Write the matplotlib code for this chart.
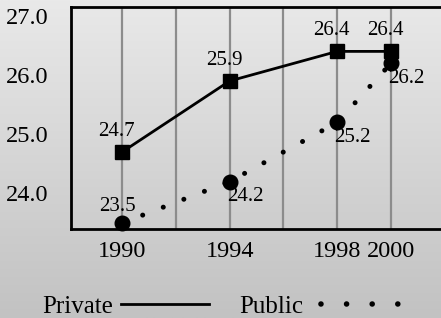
import numpy as np
import matplotlib.pyplot as plt
from matplotlib.lines import Line2D

years = [1990, 1994, 1998, 2000]
private = [24.7, 25.9, 26.4, 26.4]
public = [23.5, 24.2, 25.2, 26.2]
yticks = [24.0, 25.0, 26.0, 27.0]

plt.rcParams['font.family'] = ['Liberation Serif', 'DejaVu Serif']
plt.rcParams['font.size'] = 15

fig = plt.figure(figsize=(4.41, 3.18), dpi=100)

# fondo degradado
bg = fig.add_axes([0, 0, 1, 1], zorder=-10)
grad = np.linspace(0, 1, 256).reshape(-1, 1)
bg.imshow(grad, aspect='auto', cmap=plt.cm.colors.LinearSegmentedColormap.from_list(
    'g', ['#e9e9e9', '#c2c2c2']), extent=[0, 1, 0, 1], origin='upper')
bg.axis('off')

ax = fig.add_axes([0.161, 0.280, 0.839, 0.698])
ax.set_facecolor('none')
ax.set_xlim(1988.1, 2001.86)
ax.set_ylim(23.40, 27.15)

for x in range(1990, 2002, 2):
    ax.axvline(x, color='#8c8c8c', lw=1.6, zorder=1)

ax.plot(years, private, color='black', lw=2, marker='s', ms=10.5, zorder=3,
        clip_on=False)
ax.plot(years, public, color='black', lw=3.6, ls=(0, (0.01, 4.4)),
        dash_capstyle='round', zorder=3)
ax.plot(years, public, color='black', lw=0, marker='o', ms=10.5, zorder=4,
        clip_on=False)

for x, y in zip(years, private):
    ax.annotate(f'{y:.1f}', (x, y), xytext=(-4, 8), textcoords='offset points',
                ha='center', va='bottom')
ax.annotate(f'{public[0]:.1f}', (years[0], public[0]), xytext=(-3, 5),
            textcoords='offset points', ha='center', va='bottom')
for x, y in zip(years[1:], public[1:]):
    ax.annotate(f'{y:.1f}', (x, y), xytext=(-2, -4), textcoords='offset points',
                ha='left', va='top')

ax.set_xticks(years)
ax.set_yticks(yticks)
ax.set_yticklabels([f'{v:.1f}' for v in yticks])
ax.tick_params(length=0, pad=9, labelsize=17.5)
ax.tick_params(axis='y', pad=16)
for s in ['left', 'top', 'bottom']:
    ax.spines[s].set_linewidth(2)
ax.spines['right'].set_visible(False)

handles = [Line2D([], [], color='black', lw=2),
           Line2D([], [], color='black', lw=4, ls=(3.0, (0.01, 4.6)),
                  dash_capstyle='round')]
fig.legend(handles, ['Private', 'Public'], loc='center', bbox_to_anchor=(0.5, 0.035),
           ncol=2, markerfirst=False, frameon=False, handlelength=3.5,
           columnspacing=1.2, handletextpad=0.35, fontsize=18)

fig.savefig('out.png', dpi=100)
